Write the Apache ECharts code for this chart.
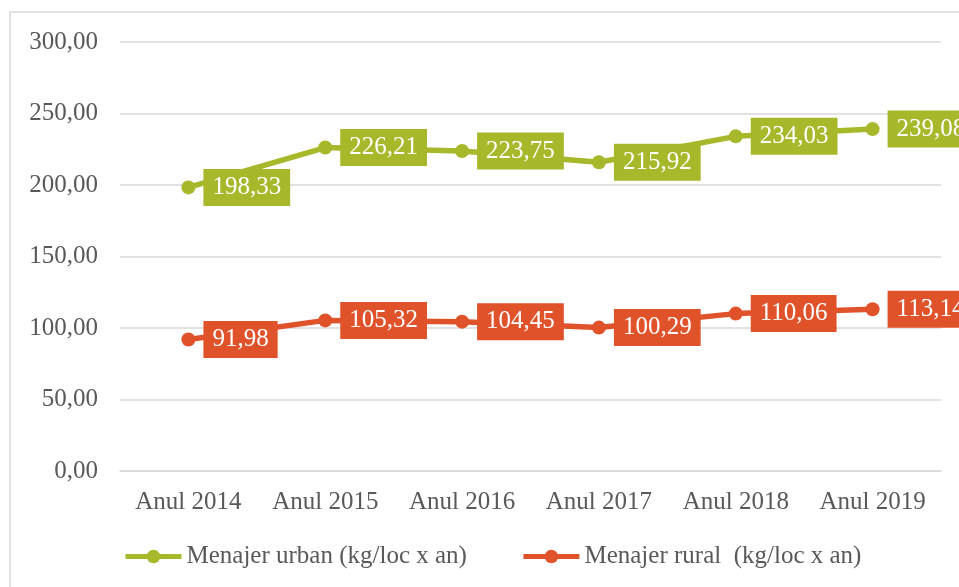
<!DOCTYPE html>
<html>
<head>
<meta charset="utf-8">
<script src="https://cdn.jsdelivr.net/npm/echarts@6/dist/echarts.min.js"></script>
<style>
    html, body { margin: 0; padding: 0; background: #fff; }
    #chart { width: 959px; height: 587px; }
</style>
</head>
<body>
<div id="chart"></div>
<script>
const categories = ['Anul 2014', 'Anul 2015', 'Anul 2016', 'Anul 2017', 'Anul 2018', 'Anul 2019']
const urbanValues = [198.33, 226.21, 223.75, 215.92, 234.03, 239.08]
const ruralValues = [91.98, 105.32, 104.45, 100.29, 110.06, 113.14]
const urbanName = 'Menajer urban (kg/loc x an)'
const ruralName = 'Menajer rural  (kg/loc x an)'

const fontFamily = '"Liberation Serif", serif'
const textColor = '#595959'
const gridColor = '#d9d9d9'
const green = '#a7b82a'
const orange = '#e0522a'

// numere cu virgula, ca in original
const fmt = v => v.toFixed(2).replace('.', ',')

const chart = echarts.init(document.getElementById('chart'))

function makeSeries(name, data, color) {
    return {
        name: name,
        type: 'line',
        data: data,
        symbol: 'circle',
        symbolSize: 14,
        itemStyle: { color: color },
        lineStyle: { color: color, width: 5.5 },
        label: {
            show: true,
            position: 'right',
            distance: 8,
            formatter: p => fmt(p.value),
            backgroundColor: color,
            color: '#fff',
            fontFamily: fontFamily,
            fontSize: 25,
            lineHeight: 25,
            padding: [6, 9, 6, 9]
        }
    }
}

const option = {
    animation: false,
    graphic: [{
        type: 'rect',
        shape: { x: 10, y: 12, width: 1000, height: 700 },
        style: { fill: null, stroke: gridColor, lineWidth: 1.5 },
        silent: true,
        z: -1
    }],
    grid: {
        left: 120,
        right: 18,
        top: 42,
        bottom: 116
    },
    legend: {
        left: 123,
        top: 544,
        padding: 0,
        itemWidth: 56,
        itemHeight: 17,
        itemGap: 54,
        lineStyle: { width: 5 },
        textStyle: { color: textColor, fontFamily: fontFamily, fontSize: 25 },
        data: [urbanName, ruralName]
    },
    xAxis: {
        type: 'category',
        data: categories,
        boundaryGap: true,
        axisLine: { lineStyle: { color: gridColor, width: 1.5 } },
        axisTick: { show: false },
        axisLabel: {
            color: textColor,
            fontFamily: fontFamily,
            fontSize: 25,
            margin: 19,
            interval: 0
        }
    },
    yAxis: {
        type: 'value',
        min: 0,
        max: 300,
        interval: 50,
        axisLine: { show: false },
        axisTick: { show: false },
        splitLine: { lineStyle: { color: gridColor, width: 1.5 } },
        axisLabel: {
            color: textColor,
            fontFamily: fontFamily,
            fontSize: 25,
            margin: 22,
            formatter: v => fmt(v)
        }
    },
    series: [
        makeSeries(urbanName, urbanValues, green),
        makeSeries(ruralName, ruralValues, orange)
    ]
}

chart.setOption(option)
</script>
</body>
</html>
